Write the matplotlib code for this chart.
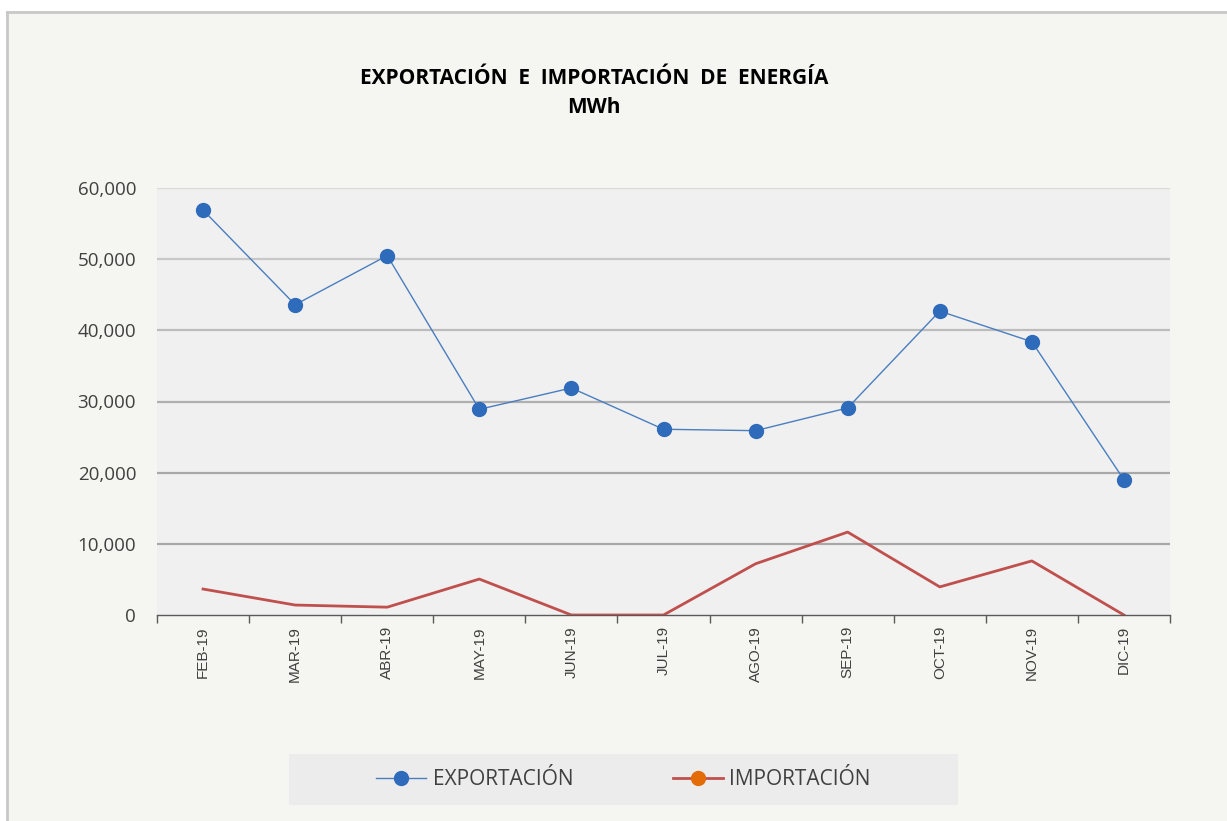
import matplotlib
matplotlib.use('Agg')
import matplotlib.pyplot as plt
from matplotlib.lines import Line2D
from matplotlib.ticker import FuncFormatter, FixedLocator
import numpy as np

# ============================================================
# DATA
# ============================================================
months = ['FEB-19', 'MAR-19', 'ABR-19', 'MAY-19', 'JUN-19', 'JUL-19',
          'AGO-19', 'SEP-19', 'OCT-19', 'NOV-19', 'DIC-19']
exportacion = [56900, 43600, 50500, 28900, 31900, 26100,
               25900, 29100, 42700, 38400, 19000]
importacion = [3650, 1400, 1100, 5050, 0, 0,
               7200, 11650, 3950, 7600, 0]
y_ticks = [0, 10000, 20000, 30000, 40000, 50000, 60000]

title_txt = 'EXPORTACIÓN  E  IMPORTACIÓN  DE  ENERGÍA\nMWh'

# ============================================================
# STYLE
# ============================================================
bg_outer = '#f5f5f1'
bg_plot = '#f0f0f0'
blue_line = '#4a7ebf'
blue_mark = '#2e6bba'
red_line = '#c0504d'
orange_mark = '#e36c09'
txt_col = '#404040'
font_main = 'Open Sans'

fig = plt.figure(figsize=(12.27, 8.21), dpi=100, facecolor='white')

# outer chart area (left/top border only, like the screenshot)
fig.patches.append(plt.Rectangle((7/1227, 0), 1, 1 - 12/821,
                                 transform=fig.transFigure,
                                 facecolor=bg_outer, edgecolor='none', zorder=-10))
fig.add_artist(Line2D([7/1227, 7/1227], [0, 1 - 12/821],
                      transform=fig.transFigure, color='#c8c8c8', lw=2, zorder=-5))
fig.add_artist(Line2D([7/1227, 1], [1 - 12/821, 1 - 12/821],
                      transform=fig.transFigure, color='#c8c8c8', lw=2, zorder=-5))

ax = fig.add_axes([157/1227, 1 - 615/821, (1170 - 157)/1227, (615 - 188)/821])
ax.set_facecolor(bg_plot)

x = np.arange(len(months))

# gridlines: lighter towards the top
grid_cols = ['#a8a8a8', '#a8a8a8', '#b0b0b0', '#bcbcbc', '#c8c8c8', '#dadada']
for val, c in zip(y_ticks[1:], grid_cols):
    ax.axhline(val, color=c, lw=1.6, zorder=1)

ax.plot(x, exportacion, color=blue_line, lw=1.0, marker='o', markersize=10,
        markerfacecolor=blue_mark, markeredgecolor=blue_mark, zorder=3)
ax.plot(x, importacion, color=red_line, lw=2.0, zorder=3)

ax.set_xlim(-0.5, len(months) - 0.5)
ax.set_ylim(0, 60000)

for s in ['top', 'right', 'left']:
    ax.spines[s].set_visible(False)
ax.spines['bottom'].set_color('#595959')
ax.spines['bottom'].set_linewidth(1.0)

ax.set_xticks(x)
ax.set_xticklabels(months, rotation=90, fontsize=11, color=txt_col,
                   family='Liberation Sans')
ax.tick_params(axis='x', which='major', length=0, pad=8)
ax.xaxis.set_minor_locator(FixedLocator(np.arange(-0.5, len(months), 1.0)))
ax.tick_params(axis='x', which='minor', length=6, color='#595959', width=1)

ax.set_yticks(y_ticks)
ax.yaxis.set_major_formatter(FuncFormatter(lambda v, p: f'{int(v):,}'))
ax.tick_params(axis='y', length=0, pad=15, labelsize=13.5, labelcolor=txt_col)
for lab in ax.get_yticklabels():
    lab.set_family(font_main)

fig.text(594/1227, 1 - 93/821, title_txt, ha='center', va='center',
         fontsize=15, fontweight='bold', family=font_main, color='black',
         linespacing=1.45)

# legend box
leg_ax = fig.add_axes([289/1227, 1 - 805/821, (958 - 289)/1227, 51/821])
leg_ax.set_facecolor('#ececec')
leg_ax.set_xticks([])
leg_ax.set_yticks([])
for s in leg_ax.spines.values():
    s.set_visible(False)

handles = [
    Line2D([], [], color=blue_line, lw=1.0, marker='o', markersize=10,
           markerfacecolor=blue_mark, markeredgecolor=blue_mark),
    Line2D([], [], color=red_line, lw=2.0, marker='o', markersize=10,
           markerfacecolor=orange_mark, markeredgecolor=orange_mark),
]
leg = leg_ax.legend(handles, ['EXPORTACIÓN', 'IMPORTACIÓN'], loc='center',
                    ncol=2, frameon=False, handlelength=2.4,
                    columnspacing=4.8, handletextpad=0.3,
                    prop={'family': font_main, 'size': 15})
for t in leg.get_texts():
    t.set_color(txt_col)

fig.savefig('out.png', dpi=100, facecolor='white')
